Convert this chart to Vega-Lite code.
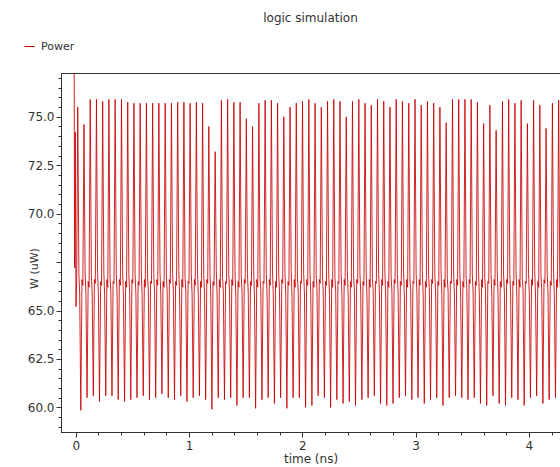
{
  "$schema": "https://vega.github.io/schema/vega-lite/v6.json",
  "width": 499,
  "height": 359,
  "autosize": {"type": "none"},
  "padding": {"left": 61, "top": 73, "right": 0, "bottom": 35},
  "background": "white",
  "title": {"text": "logic simulation", "fontSize": 12, "fontWeight": "normal", "font": "DejaVu Sans", "color": "#333", "offset": 16, "anchor": "middle"},
  "config": {
    "view": {"stroke": "#333", "strokeWidth": 1},
    "axis": {"labelFont": "DejaVu Sans", "labelFontSize": 12, "labelColor": "#333", "titleFont": "DejaVu Sans", "titleFontSize": 12, "titleFontWeight": "normal", "titleColor": "#333", "domainColor": "#333", "tickColor": "#333", "grid": false, "labelFlush": false, "labelOverlap": false}
  },
  "data": {"values": [
    {"t":-0.014,"w":78.5},{"t":-0.010,"w":67.2},{"t":-0.004,"w":74.2},{"t":0.002,"w":65.2},{"t":0.008,"w":66.4},
    {"t":0.018,"w":75.5},{"t":0.028,"w":66.9},{"t":0.035,"w":65.9},{"t":0.045,"w":59.85},{"t":0.055,"w":66.6},
    {"t":0.063,"w":66.3},{"t":0.073,"w":74.6},{"t":0.083,"w":67.0},{"t":0.090,"w":65.8},{"t":0.100,"w":60.5},{"t":0.110,"w":66.5},
    {"t":0.118,"w":66.2},{"t":0.128,"w":75.9},{"t":0.138,"w":66.8},{"t":0.145,"w":66.0},{"t":0.155,"w":60.6},{"t":0.165,"w":66.6},
    {"t":0.173,"w":66.4},{"t":0.183,"w":75.9},{"t":0.193,"w":66.9},{"t":0.200,"w":65.9},{"t":0.210,"w":60.3},{"t":0.220,"w":66.5},
    {"t":0.228,"w":66.3},{"t":0.238,"w":75.8},{"t":0.248,"w":67.0},{"t":0.255,"w":65.8},{"t":0.265,"w":60.6},{"t":0.275,"w":66.6},
    {"t":0.283,"w":66.2},{"t":0.293,"w":75.9},{"t":0.303,"w":66.7},{"t":0.310,"w":66.0},{"t":0.320,"w":60.6},{"t":0.330,"w":66.5},
    {"t":0.338,"w":66.4},{"t":0.348,"w":75.9},{"t":0.358,"w":66.9},{"t":0.365,"w":65.9},{"t":0.375,"w":60.4},{"t":0.385,"w":66.6},
    {"t":0.394,"w":66.3},{"t":0.404,"w":75.9},{"t":0.414,"w":67.0},{"t":0.421,"w":65.8},{"t":0.431,"w":60.3},{"t":0.441,"w":66.5},
    {"t":0.449,"w":66.2},{"t":0.459,"w":75.75},{"t":0.469,"w":66.8},{"t":0.476,"w":66.0},{"t":0.486,"w":60.4},{"t":0.496,"w":66.6},
    {"t":0.504,"w":66.4},{"t":0.514,"w":75.7},{"t":0.524,"w":66.9},{"t":0.531,"w":65.9},{"t":0.541,"w":60.5},{"t":0.551,"w":66.5},
    {"t":0.559,"w":66.3},{"t":0.569,"w":75.7},{"t":0.579,"w":67.0},{"t":0.586,"w":65.8},{"t":0.596,"w":60.6},{"t":0.606,"w":66.6},
    {"t":0.614,"w":66.2},{"t":0.624,"w":75.7},{"t":0.634,"w":66.7},{"t":0.641,"w":66.0},{"t":0.651,"w":60.4},{"t":0.661,"w":66.5},
    {"t":0.669,"w":66.4},{"t":0.679,"w":75.7},{"t":0.689,"w":66.9},{"t":0.696,"w":65.9},{"t":0.706,"w":60.5},{"t":0.716,"w":66.6},
    {"t":0.724,"w":66.3},{"t":0.734,"w":75.7},{"t":0.744,"w":67.0},{"t":0.751,"w":65.8},{"t":0.761,"w":60.7},{"t":0.771,"w":66.5},
    {"t":0.780,"w":66.2},{"t":0.790,"w":75.7},{"t":0.800,"w":66.8},{"t":0.807,"w":66.0},{"t":0.817,"w":60.5},{"t":0.827,"w":66.6},
    {"t":0.835,"w":66.4},{"t":0.845,"w":75.7},{"t":0.855,"w":66.9},{"t":0.862,"w":65.9},{"t":0.872,"w":60.4},{"t":0.882,"w":66.5},
    {"t":0.890,"w":66.3},{"t":0.900,"w":75.75},{"t":0.910,"w":67.0},{"t":0.917,"w":65.8},{"t":0.927,"w":60.6},{"t":0.937,"w":66.6},
    {"t":0.945,"w":66.2},{"t":0.955,"w":75.75},{"t":0.965,"w":66.7},{"t":0.972,"w":66.0},{"t":0.982,"w":60.3},{"t":0.992,"w":66.5},
    {"t":1.000,"w":66.4},{"t":1.010,"w":75.7},{"t":1.020,"w":66.9},{"t":1.027,"w":65.9},{"t":1.037,"w":60.5},{"t":1.047,"w":66.6},
    {"t":1.055,"w":66.3},{"t":1.065,"w":75.75},{"t":1.075,"w":67.0},{"t":1.082,"w":65.8},{"t":1.092,"w":60.6},{"t":1.102,"w":66.5},
    {"t":1.110,"w":66.2},{"t":1.120,"w":75.7},{"t":1.130,"w":66.8},{"t":1.137,"w":66.0},{"t":1.147,"w":60.4},{"t":1.157,"w":66.6},
    {"t":1.165,"w":66.4},{"t":1.175,"w":74.5},{"t":1.185,"w":66.9},{"t":1.192,"w":65.9},{"t":1.202,"w":59.9},{"t":1.212,"w":66.5},
    {"t":1.221,"w":66.3},{"t":1.231,"w":73.2},{"t":1.241,"w":67.0},{"t":1.248,"w":65.8},{"t":1.258,"w":60.5},{"t":1.268,"w":66.6},
    {"t":1.276,"w":66.2},{"t":1.286,"w":75.85},{"t":1.296,"w":66.7},{"t":1.303,"w":66.0},{"t":1.313,"w":60.4},{"t":1.323,"w":66.5},
    {"t":1.331,"w":66.4},{"t":1.341,"w":75.9},{"t":1.351,"w":66.9},{"t":1.358,"w":65.9},{"t":1.368,"w":60.5},{"t":1.378,"w":66.6},
    {"t":1.386,"w":66.3},{"t":1.396,"w":75.75},{"t":1.406,"w":67.0},{"t":1.413,"w":65.8},{"t":1.423,"w":60.1},{"t":1.433,"w":66.5},
    {"t":1.441,"w":66.2},{"t":1.451,"w":75.75},{"t":1.461,"w":66.8},{"t":1.468,"w":66.0},{"t":1.478,"w":60.5},{"t":1.488,"w":66.6},
    {"t":1.496,"w":66.4},{"t":1.506,"w":74.9},{"t":1.516,"w":66.9},{"t":1.523,"w":65.9},{"t":1.533,"w":60.5},{"t":1.543,"w":66.5},
    {"t":1.551,"w":66.3},{"t":1.561,"w":74.5},{"t":1.571,"w":67.0},{"t":1.578,"w":65.8},{"t":1.588,"w":59.95},{"t":1.598,"w":66.6},
    {"t":1.607,"w":66.2},{"t":1.617,"w":75.7},{"t":1.627,"w":66.7},{"t":1.634,"w":66.0},{"t":1.644,"w":60.4},{"t":1.654,"w":66.5},
    {"t":1.662,"w":66.4},{"t":1.672,"w":75.85},{"t":1.682,"w":66.9},{"t":1.689,"w":65.9},{"t":1.699,"w":60.5},{"t":1.709,"w":66.6},
    {"t":1.717,"w":66.3},{"t":1.727,"w":75.85},{"t":1.737,"w":67.0},{"t":1.744,"w":65.8},{"t":1.754,"w":60.2},{"t":1.764,"w":66.5},
    {"t":1.772,"w":66.2},{"t":1.782,"w":75.7},{"t":1.792,"w":66.8},{"t":1.799,"w":66.0},{"t":1.809,"w":60.5},{"t":1.819,"w":66.6},
    {"t":1.827,"w":66.4},{"t":1.837,"w":75.0},{"t":1.847,"w":66.9},{"t":1.854,"w":65.9},{"t":1.864,"w":59.95},{"t":1.874,"w":66.5},
    {"t":1.882,"w":66.3},{"t":1.892,"w":75.5},{"t":1.902,"w":67.0},{"t":1.909,"w":65.8},{"t":1.919,"w":60.5},{"t":1.929,"w":66.6},
    {"t":1.937,"w":66.2},{"t":1.947,"w":75.7},{"t":1.957,"w":66.7},{"t":1.964,"w":66.0},{"t":1.974,"w":60.5},{"t":1.984,"w":66.5},
    {"t":1.992,"w":66.4},{"t":2.002,"w":75.8},{"t":2.012,"w":66.9},{"t":2.019,"w":65.9},{"t":2.029,"w":60.0},{"t":2.039,"w":66.6},
    {"t":2.048,"w":66.3},{"t":2.058,"w":75.9},{"t":2.068,"w":67.0},{"t":2.075,"w":65.8},{"t":2.085,"w":60.1},{"t":2.095,"w":66.5},
    {"t":2.103,"w":66.2},{"t":2.113,"w":75.7},{"t":2.123,"w":66.8},{"t":2.130,"w":66.0},{"t":2.140,"w":60.6},{"t":2.150,"w":66.6},
    {"t":2.158,"w":66.4},{"t":2.168,"w":75.5},{"t":2.178,"w":66.9},{"t":2.185,"w":65.9},{"t":2.195,"w":60.5},{"t":2.205,"w":66.5},
    {"t":2.213,"w":66.3},{"t":2.223,"w":75.8},{"t":2.233,"w":67.0},{"t":2.240,"w":65.8},{"t":2.250,"w":60.0},{"t":2.260,"w":66.6},
    {"t":2.268,"w":66.2},{"t":2.278,"w":75.9},{"t":2.288,"w":66.7},{"t":2.295,"w":66.0},{"t":2.305,"w":60.4},{"t":2.315,"w":66.5},
    {"t":2.323,"w":66.4},{"t":2.333,"w":75.8},{"t":2.343,"w":66.9},{"t":2.350,"w":65.9},{"t":2.360,"w":60.2},{"t":2.370,"w":66.6},
    {"t":2.378,"w":66.3},{"t":2.388,"w":75.0},{"t":2.398,"w":67.0},{"t":2.405,"w":65.8},{"t":2.415,"w":60.3},{"t":2.425,"w":66.5},
    {"t":2.433,"w":66.2},{"t":2.443,"w":75.8},{"t":2.453,"w":66.8},{"t":2.460,"w":66.0},{"t":2.470,"w":60.1},{"t":2.480,"w":66.6},
    {"t":2.489,"w":66.4},{"t":2.499,"w":75.9},{"t":2.509,"w":66.9},{"t":2.516,"w":65.9},{"t":2.526,"w":60.4},{"t":2.536,"w":66.5},
    {"t":2.544,"w":66.3},{"t":2.554,"w":75.7},{"t":2.564,"w":67.0},{"t":2.571,"w":65.8},{"t":2.581,"w":60.5},{"t":2.591,"w":66.6},
    {"t":2.599,"w":66.2},{"t":2.609,"w":75.6},{"t":2.619,"w":66.7},{"t":2.626,"w":66.0},{"t":2.636,"w":60.6},{"t":2.646,"w":66.5},
    {"t":2.654,"w":66.4},{"t":2.664,"w":75.9},{"t":2.674,"w":66.9},{"t":2.681,"w":65.9},{"t":2.691,"w":60.2},{"t":2.701,"w":66.6},
    {"t":2.709,"w":66.3},{"t":2.719,"w":75.8},{"t":2.729,"w":67.0},{"t":2.736,"w":65.8},{"t":2.746,"w":60.1},{"t":2.756,"w":66.5},
    {"t":2.764,"w":66.2},{"t":2.774,"w":75.5},{"t":2.784,"w":66.8},{"t":2.791,"w":66.0},{"t":2.801,"w":60.2},{"t":2.811,"w":66.6},
    {"t":2.819,"w":66.4},{"t":2.829,"w":75.9},{"t":2.839,"w":66.9},{"t":2.846,"w":65.9},{"t":2.856,"w":60.5},{"t":2.866,"w":66.5},
    {"t":2.874,"w":66.3},{"t":2.884,"w":75.8},{"t":2.894,"w":67.0},{"t":2.901,"w":65.8},{"t":2.911,"w":60.6},{"t":2.921,"w":66.6},
    {"t":2.930,"w":66.2},{"t":2.940,"w":75.7},{"t":2.950,"w":66.7},{"t":2.957,"w":66.0},{"t":2.967,"w":60.4},{"t":2.977,"w":66.5},
    {"t":2.985,"w":66.4},{"t":2.995,"w":75.9},{"t":3.005,"w":66.9},{"t":3.012,"w":65.9},{"t":3.022,"w":60.5},{"t":3.032,"w":66.6},
    {"t":3.040,"w":66.3},{"t":3.050,"w":75.6},{"t":3.060,"w":67.0},{"t":3.067,"w":65.8},{"t":3.077,"w":60.2},{"t":3.087,"w":66.5},
    {"t":3.095,"w":66.2},{"t":3.105,"w":75.8},{"t":3.115,"w":66.8},{"t":3.122,"w":66.0},{"t":3.132,"w":60.4},{"t":3.142,"w":66.6},
    {"t":3.150,"w":66.4},{"t":3.160,"w":75.7},{"t":3.170,"w":66.9},{"t":3.177,"w":65.9},{"t":3.187,"w":60.5},{"t":3.197,"w":66.5},
    {"t":3.205,"w":66.3},{"t":3.215,"w":75.5},{"t":3.225,"w":67.0},{"t":3.232,"w":65.8},{"t":3.242,"w":60.1},{"t":3.252,"w":66.6},
    {"t":3.260,"w":66.2},{"t":3.270,"w":74.7},{"t":3.280,"w":66.7},{"t":3.287,"w":66.0},{"t":3.297,"w":60.5},{"t":3.307,"w":66.5},
    {"t":3.316,"w":66.4},{"t":3.326,"w":75.9},{"t":3.336,"w":66.9},{"t":3.343,"w":65.9},{"t":3.353,"w":60.6},{"t":3.363,"w":66.6},
    {"t":3.371,"w":66.3},{"t":3.381,"w":75.9},{"t":3.391,"w":67.0},{"t":3.398,"w":65.8},{"t":3.408,"w":60.5},{"t":3.418,"w":66.5},
    {"t":3.426,"w":66.2},{"t":3.436,"w":75.9},{"t":3.446,"w":66.8},{"t":3.453,"w":66.0},{"t":3.463,"w":60.4},{"t":3.473,"w":66.6},
    {"t":3.481,"w":66.4},{"t":3.491,"w":75.9},{"t":3.501,"w":66.9},{"t":3.508,"w":65.9},{"t":3.518,"w":60.5},{"t":3.528,"w":66.5},
    {"t":3.536,"w":66.3},{"t":3.546,"w":75.75},{"t":3.556,"w":67.0},{"t":3.563,"w":65.8},{"t":3.573,"w":60.2},{"t":3.583,"w":66.6},
    {"t":3.591,"w":66.2},{"t":3.601,"w":74.65},{"t":3.611,"w":66.7},{"t":3.618,"w":66.0},{"t":3.628,"w":60.1},{"t":3.638,"w":66.5},
    {"t":3.646,"w":66.4},{"t":3.656,"w":75.6},{"t":3.666,"w":66.9},{"t":3.673,"w":65.9},{"t":3.683,"w":60.6},{"t":3.693,"w":66.6},
    {"t":3.701,"w":66.3},{"t":3.711,"w":74.3},{"t":3.721,"w":67.0},{"t":3.728,"w":65.8},{"t":3.738,"w":60.2},{"t":3.748,"w":66.5},
    {"t":3.757,"w":66.2},{"t":3.767,"w":75.8},{"t":3.777,"w":66.8},{"t":3.784,"w":66.0},{"t":3.794,"w":60.1},{"t":3.804,"w":66.6},
    {"t":3.812,"w":66.4},{"t":3.822,"w":75.9},{"t":3.832,"w":66.9},{"t":3.839,"w":65.9},{"t":3.849,"w":60.5},{"t":3.859,"w":66.5},
    {"t":3.867,"w":66.3},{"t":3.877,"w":75.7},{"t":3.887,"w":67.0},{"t":3.894,"w":65.8},{"t":3.904,"w":60.4},{"t":3.914,"w":66.6},
    {"t":3.922,"w":66.2},{"t":3.932,"w":75.85},{"t":3.942,"w":66.7},{"t":3.949,"w":66.0},{"t":3.959,"w":60.1},{"t":3.969,"w":66.5},
    {"t":3.977,"w":66.4},{"t":3.987,"w":74.65},{"t":3.997,"w":66.9},{"t":4.004,"w":65.9},{"t":4.014,"w":60.5},{"t":4.024,"w":66.6},
    {"t":4.032,"w":66.3},{"t":4.042,"w":75.85},{"t":4.052,"w":67.0},{"t":4.059,"w":65.8},{"t":4.069,"w":60.6},{"t":4.079,"w":66.5},
    {"t":4.087,"w":66.2},{"t":4.097,"w":75.6},{"t":4.107,"w":66.8},{"t":4.114,"w":66.0},{"t":4.124,"w":60.2},{"t":4.134,"w":66.6},
    {"t":4.142,"w":66.4},{"t":4.152,"w":74.4},{"t":4.162,"w":66.9},{"t":4.169,"w":65.9},{"t":4.179,"w":60.4},{"t":4.189,"w":66.5},
    {"t":4.198,"w":66.3},{"t":4.208,"w":75.7},{"t":4.218,"w":67.0},{"t":4.225,"w":65.8},{"t":4.235,"w":60.5},{"t":4.245,"w":66.6},
    {"t":4.253,"w":66.2},{"t":4.263,"w":75.85},{"t":4.273,"w":66.7},{"t":4.280,"w":66.0},{"t":4.290,"w":60.4},{"t":4.300,"w":66.5}
  ]},
  "mark": {"type": "line", "strokeWidth": 1, "strokeOpacity": 0.85, "clip": true},
  "encoding": {
    "x": {
      "field": "t", "type": "quantitative", "sort": null,
      "scale": {"domain": [-0.13, 4.275], "nice": false, "zero": false},
      "axis": {
        "title": "time (ns)", "titlePadding": 2, "labelPadding": 3,
        "values": [0,0.2,0.4,0.6,0.8,1,1.2,1.4,1.6,1.8,2,2.2,2.4,2.6,2.8,3,3.2,3.4,3.6,3.8,4,4.2],
        "labelExpr": "abs(datum.value - round(datum.value)) < 0.000001 ? format(datum.value, 'd') : ''",
        "tickSize": {"condition": {"test": "abs(datum.value - round(datum.value)) < 0.000001", "value": 5}, "value": 3}
      }
    },
    "y": {
      "field": "w", "type": "quantitative",
      "scale": {"domain": [58.73, 77.26], "nice": false, "zero": false},
      "axis": {
        "title": "W (uW)", "titleFontSize": 11, "titleX": -27, "titleY": 195, "titleAngle": 270, "titleAlign": "center", "titleBaseline": "middle", "labelPadding": 2,
        "values": [59,59.5,60,60.5,61,61.5,62,62.5,63,63.5,64,64.5,65,65.5,66,66.5,67,67.5,68,68.5,69,69.5,70,70.5,71,71.5,72,72.5,73,73.5,74,74.5,75,75.5,76,76.5,77],
        "labelExpr": "abs(datum.value / 2.5 - round(datum.value / 2.5)) < 0.000001 && abs(datum.value - 67.5) > 0.01 ? format(datum.value, '.1f') : ''",
        "tickSize": {"condition": {"test": "abs(datum.value / 2.5 - round(datum.value / 2.5)) < 0.000001", "value": 5}, "value": 3}
      }
    },
    "color": {
      "datum": "Power",
      "scale": {"range": ["#c80000"]},
      "legend": {"title": null, "orient": "none", "legendX": -37, "legendY": -32, "symbolType": "stroke", "symbolSize": 100, "symbolStrokeWidth": 1, "labelFont": "DejaVu Sans", "labelFontSize": 11, "labelColor": "#333", "padding": 0, "labelOffset": 6}
    }
  }
}
